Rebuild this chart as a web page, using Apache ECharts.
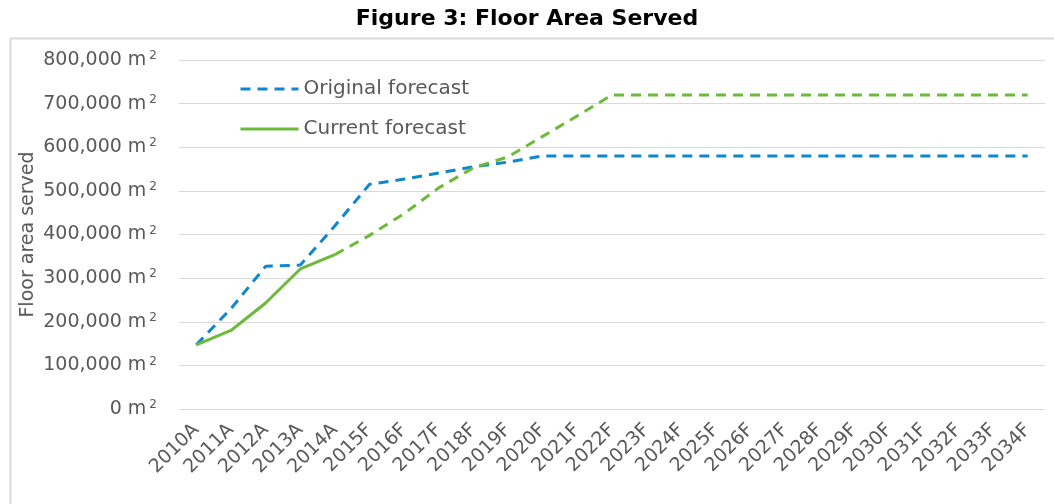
<!DOCTYPE html>
<html>
<head>
<meta charset="utf-8">
<script src="https://cdn.jsdelivr.net/npm/echarts@6/dist/echarts.min.js"></script>
<style>
  html, body { margin: 0; padding: 0; background: #ffffff; }
  #chart { width: 1054px; height: 504px; }
</style>
</head>
<body>
<div id="chart"></div>
<script>
// Years on the horizontal axis (A = actual, F = forecast)
const years = [
  '2010A', '2011A', '2012A', '2013A', '2014A', '2015F', '2016F', '2017F',
  '2018F', '2019F', '2020F', '2021F', '2022F', '2023F', '2024F', '2025F',
  '2026F', '2027F', '2028F', '2029F', '2030F', '2031F', '2032F', '2033F', '2034F'
];

// Floor area served, m²
const originalForecast = [
  147000, 230000, 327000, 330000, 420000, 515000, 527000, 541000,
  555000, 566000, 580000, 580000, 580000, 580000, 580000, 580000,
  580000, 580000, 580000, 580000, 580000, 580000, 580000, 580000, 580000
];

// Current forecast: actuals (solid) through 2014A, projection (dashed) after
const currentActual = [147000, 180000, 243000, 321000, 354000];
const currentProjected = [
  354000, 398000, 448000, 507000, 553000, 578000, 625000, 672000,
  720000, 720000, 720000, 720000, 720000, 720000, 720000, 720000,
  720000, 720000, 720000, 720000, 720000
];

// Y-axis ticks
const yMin = 0, yMax = 800000, yStep = 100000;

const BLUE = '#0f87cf';
const GREEN = '#6db93b';
const FONT = 'DejaVu Sans';
const TEXT = '#595959';

const actualIdx = currentActual.length - 1;
const currentActualSeries = years.map((_, i) => (i <= actualIdx ? currentActual[i] : null));
const currentProjectedSeries = years.map((_, i) =>
  i >= actualIdx ? currentProjected[i - actualIdx] : null
);

// "800,000 m" followed by a raised, smaller superscript 2
const fmt = v => '{n|' + v.toLocaleString('en-US') + ' m}{s|2}';

const chart = echarts.init(document.getElementById('chart'), null, { renderer: 'canvas' });

chart.setOption({
  animation: false,
  backgroundColor: '#ffffff',
  title: {
    text: 'Figure 3: Floor Area Served',
    left: 'center',
    top: 3,
    textStyle: { fontFamily: FONT, fontWeight: 'bold', fontSize: 22, color: '#000000' }
  },
  graphic: [{
    type: 'rect',
    left: 8,
    top: 36,
    shape: { width: 1100, height: 520 },
    style: { fill: 'none', stroke: '#d9d9d9', lineWidth: 2 },
    silent: true,
    z: -10
  }],
  legend: {
    data: ['Original forecast', 'Current forecast'],
    orient: 'vertical',
    left: 234,
    top: 74,
    itemWidth: 58,
    itemHeight: 14,
    itemGap: 20,
    itemStyle: { opacity: 0 },
    lineStyle: { width: 3 },
    textStyle: { fontFamily: FONT, fontSize: 20, color: TEXT }
  },
  grid: { left: 179, right: 9, top: 60, bottom: 95, containLabel: false },
  xAxis: {
    type: 'category',
    data: years,
    boundaryGap: true,
    axisLine: { show: false },
    axisTick: { show: false },
    axisLabel: {
      rotate: 45,
      interval: 0,
      margin: 18,
      fontFamily: FONT,
      fontSize: 19,
      color: TEXT
    }
  },
  yAxis: {
    type: 'value',
    min: yMin,
    max: yMax,
    interval: yStep,
    name: 'Floor area served',
    nameLocation: 'middle',
    nameGap: 141,
    nameMoveOverlap: false,
    nameTextStyle: { fontFamily: FONT, fontSize: 19, color: TEXT },
    axisLine: { show: false },
    axisTick: { show: false },
    splitLine: { lineStyle: { color: '#d9d9d9', width: 1 } },
    axisLabel: {
      formatter: fmt,
      margin: 22,
      rich: {
        n: { fontFamily: FONT, fontSize: 19, color: TEXT },
        s: { fontFamily: FONT, fontSize: 12, color: TEXT, padding: [0, 0, 8, 3] }
      }
    }
  },
  series: [
    {
      name: 'Original forecast',
      type: 'line',
      data: originalForecast,
      symbol: 'none',
      lineStyle: { color: BLUE, width: 3, type: [10, 7] },
      itemStyle: { color: BLUE },
      z: 2
    },
    {
      name: 'Current forecast',
      type: 'line',
      data: currentActualSeries,
      symbol: 'none',
      lineStyle: { color: GREEN, width: 3, type: 'solid' },
      itemStyle: { color: GREEN },
      z: 3
    },
    {
      name: 'Current forecast (projected)',
      type: 'line',
      data: currentProjectedSeries,
      symbol: 'none',
      lineStyle: { color: GREEN, width: 3, type: [10, 7] },
      itemStyle: { color: GREEN },
      z: 3
    }
  ]
});
</script>
</body>
</html>
